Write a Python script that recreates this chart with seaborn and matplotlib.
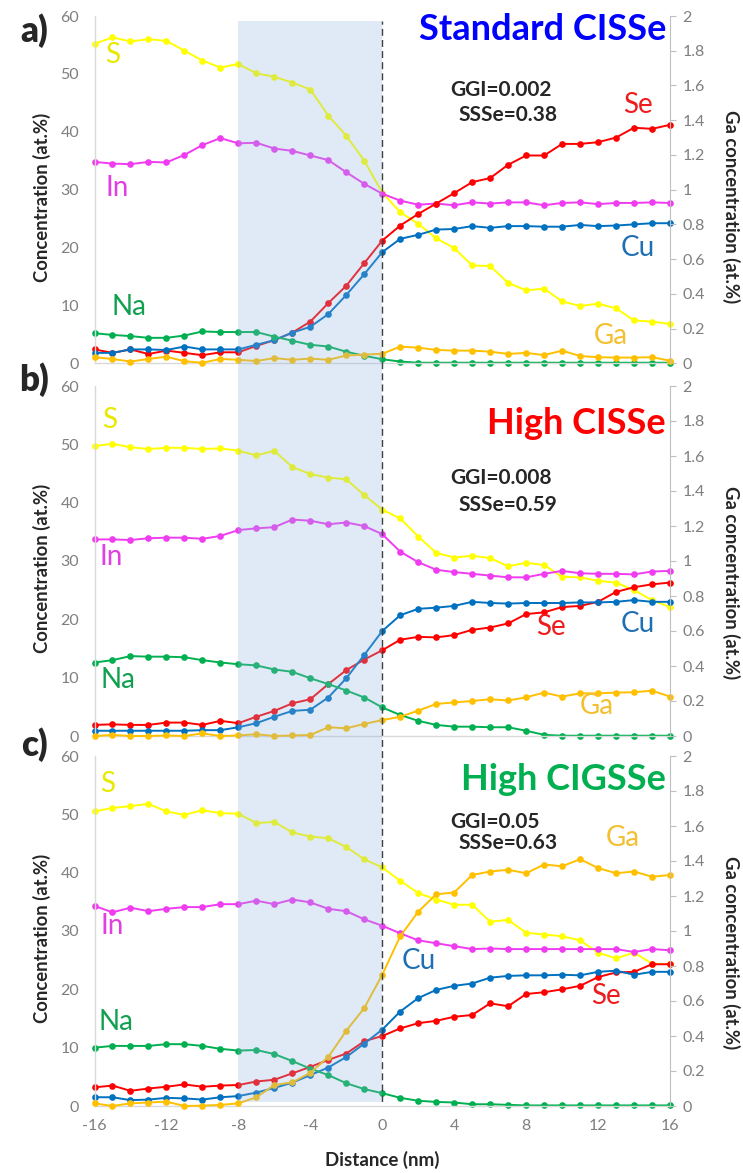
import matplotlib
matplotlib.use("Agg")
import matplotlib.pyplot as plt
from matplotlib.ticker import FuncFormatter
import seaborn as sns
import numpy as np

# distancia (nm) - mesmo eixo para os tres paineis
distance = list(range(-16, 17))

# a) Standard CISSe
S_a = [55.2, 56.3, 55.6, 56.0, 55.7, 54.0, 52.3, 51.1, 51.7, 50.1, 49.5, 48.5, 47.3, 42.8, 39.3, 35.0,
       29.5, 26.1, 24.1, 21.6, 19.9, 16.9, 16.8, 13.9, 12.6, 12.9, 10.7, 9.9, 10.3, 9.5, 7.4, 7.2, 6.8]
In_a = [34.8, 34.5, 34.4, 34.8, 34.7, 36.0, 37.7, 38.9, 38.0, 38.1, 37.1, 36.7, 35.9, 35.1, 33.0, 31.0,
        29.3, 28.1, 27.4, 27.6, 27.3, 27.8, 27.6, 27.8, 27.8, 27.3, 27.7, 27.8, 27.5, 27.7, 27.7, 27.8, 27.7]
Se_a = [2.4, 1.8, 2.4, 1.6, 2.2, 1.8, 1.4, 1.9, 1.9, 3.0, 4.0, 5.3, 7.2, 10.4, 13.4, 17.3,
        21.2, 23.8, 25.8, 27.6, 29.4, 31.3, 32.0, 34.3, 35.9, 35.9, 37.9, 37.9, 38.2, 39.0, 40.7, 40.5, 41.2]
Cu_a = [1.8, 1.8, 2.4, 2.4, 2.3, 2.9, 2.4, 2.4, 2.4, 3.2, 4.0, 5.3, 6.3, 8.5, 11.8, 15.4,
        19.2, 21.5, 22.2, 23.1, 23.2, 23.7, 23.4, 23.7, 23.7, 23.6, 23.6, 23.9, 23.7, 23.8, 24.0, 24.2, 24.2]
Na_a = [5.2, 4.9, 4.7, 4.4, 4.4, 4.8, 5.5, 5.4, 5.4, 5.4, 4.6, 3.9, 3.2, 2.9, 2.0, 1.3,
        0.7, 0.3, 0.1, 0.1, 0.1, 0.1, 0.1, 0.1, 0.1, 0.1, 0.1, 0.1, 0.1, 0.1, 0.1, 0.1, 0.1]
Ga_a = [0.035, 0.025, 0.01, 0.025, 0.038, 0.012, 0.003, 0.025, 0.02, 0.013, 0.03, 0.02, 0.027, 0.02, 0.045, 0.05,
        0.055, 0.096, 0.09, 0.077, 0.073, 0.073, 0.067, 0.054, 0.06, 0.047, 0.073, 0.042, 0.035, 0.033, 0.033, 0.035, 0.015]

# b) High CISSe
S_b = [49.7, 50.1, 49.5, 49.2, 49.4, 49.4, 49.2, 49.3, 48.9, 48.1, 48.9, 46.1, 44.9, 44.3, 44.0, 41.3,
       38.8, 37.3, 34.2, 31.4, 30.6, 30.9, 30.5, 29.1, 29.7, 29.3, 27.3, 27.2, 26.6, 26.3, 25.0, 23.3, 22.1]
In_b = [33.7, 33.7, 33.6, 33.9, 34.0, 34.0, 33.8, 34.3, 35.3, 35.6, 35.8, 37.1, 36.9, 36.3, 36.6, 36.0,
        34.6, 31.6, 29.8, 28.5, 28.1, 27.8, 27.5, 27.2, 27.2, 27.8, 28.3, 27.9, 27.8, 27.8, 27.7, 28.2, 28.3]
Se_b = [1.9, 2.0, 1.9, 1.9, 2.3, 2.3, 1.9, 2.6, 2.2, 3.3, 4.3, 5.6, 6.3, 8.9, 11.3, 13.1,
        14.7, 16.5, 17.0, 16.9, 17.3, 18.2, 18.6, 19.3, 20.9, 21.2, 22.1, 22.3, 23.0, 24.7, 25.5, 26.0, 26.3]
Cu_b = [0.9, 0.9, 0.9, 0.9, 0.9, 0.9, 1.0, 1.0, 1.5, 2.2, 3.3, 4.3, 4.5, 6.6, 9.9, 13.9,
        18.0, 20.7, 21.8, 22.0, 22.3, 23.0, 22.8, 22.7, 22.8, 22.8, 22.8, 22.9, 22.9, 23.0, 23.3, 23.0, 23.0]
Na_b = [12.6, 13.0, 13.7, 13.6, 13.6, 13.5, 13.0, 12.6, 12.3, 12.1, 11.4, 11.0, 9.9, 8.9, 7.8, 6.6,
        4.9, 3.6, 2.6, 1.9, 1.6, 1.6, 1.5, 1.5, 0.9, 0.2, 0.05, 0.05, 0.05, 0.05, 0.05, 0.05, 0.05]
Ga_b = [0.0, 0.006, 0.0, 0.0, 0.003, 0.0, 0.015, 0.0, 0.003, 0.01, 0.0, 0.003, 0.006, 0.05, 0.044, 0.069,
        0.091, 0.11, 0.145, 0.183, 0.192, 0.2, 0.21, 0.203, 0.221, 0.248, 0.225, 0.244, 0.244, 0.248, 0.25, 0.259, 0.225]

# c) High CIGSSe
S_c = [50.5, 51.1, 51.4, 51.8, 50.5, 49.9, 50.7, 50.2, 50.1, 48.5, 48.7, 46.9, 46.2, 45.9, 44.4, 42.3,
       40.9, 38.6, 36.5, 35.4, 34.5, 34.5, 31.6, 31.9, 29.7, 29.4, 29.1, 28.4, 26.3, 25.3, 26.3, 24.4, 24.3]
In_c = [34.3, 33.2, 34.0, 33.4, 33.8, 34.1, 34.1, 34.6, 34.6, 35.2, 34.6, 35.4, 34.9, 33.8, 33.4, 32.0,
        30.9, 29.6, 28.4, 27.9, 27.4, 26.9, 27.0, 26.9, 26.9, 26.9, 26.9, 26.9, 26.9, 26.9, 26.4, 26.9, 26.7]
Se_c = [3.2, 3.5, 2.6, 3.0, 3.3, 3.7, 3.3, 3.5, 3.6, 4.2, 4.5, 5.6, 6.7, 7.9, 9.0, 11.1,
        12.0, 13.3, 14.2, 14.6, 15.3, 15.6, 17.6, 17.1, 19.2, 19.5, 20.0, 20.6, 22.1, 22.9, 23.0, 24.3, 24.3]
Cu_c = [1.5, 1.5, 1.0, 1.1, 1.4, 1.3, 1.1, 1.5, 1.7, 2.3, 3.1, 4.0, 5.3, 6.6, 8.4, 10.7,
        13.1, 16.2, 18.5, 19.9, 20.6, 21.0, 22.0, 22.3, 22.4, 22.4, 22.5, 22.4, 23.0, 23.2, 22.5, 23.0, 23.0]
Na_c = [10.0, 10.3, 10.3, 10.3, 10.6, 10.6, 10.3, 9.8, 9.5, 9.6, 8.9, 7.7, 6.4, 5.3, 3.9, 2.9,
        2.2, 1.4, 0.9, 0.7, 0.6, 0.3, 0.3, 0.2, 0.1, 0.1, 0.1, 0.1, 0.1, 0.1, 0.1, 0.1, 0.1]
Ga_c = [0.015, 0.0, 0.015, 0.02, 0.025, 0.0, 0.002, 0.006, 0.015, 0.05, 0.12, 0.135, 0.19, 0.28, 0.43, 0.56,
        0.75, 0.97, 1.11, 1.21, 1.22, 1.32, 1.34, 1.35, 1.33, 1.38, 1.37, 1.41, 1.36, 1.33, 1.34, 1.31, 1.32]

titles = ["Standard CISSe", "High CISSe", "High CIGSSe"]
ggi_text = ["GGI=0.002", "GGI=0.008", "GGI=0.05"]
ssse_text = ["SSSe=0.38", "SSSe=0.59", "SSSe=0.63"]
letters = ["a)", "b)", "c)"]

cores = {"S": "#ffff00", "In": "#f03cf0", "Se": "#ff0000", "Cu": "#0070c0",
         "Na": "#00b050", "Ga": "#ffc000"}
cores_rotulo = {"S": "#e8e800", "In": "#e040e0", "Se": "#ee1c1c", "Cu": "#1f6fb4",
                "Na": "#10a050", "Ga": "#f2c030"}
cores_titulo = ["#0000ff", "#ff0000", "#00b050"]

sns.set_style("white")
plt.rcParams['font.family'] = ['Lato', 'DejaVu Sans']
plt.rcParams['axes.unicode_minus'] = False

W, H = 743, 1173
fig = plt.figure(figsize=(W / 100, H / 100), dpi=100)


def fx(px):
    return px / W


def fy(py):
    return 1 - py / H


X0, X1 = 94.5, 670
# (topo, base) em pixels de cada painel
caixas = [(16, 363.3), (386, 736), (756, 1106)]

dados = [
    {"S": S_a, "In": In_a, "Se": Se_a, "Cu": Cu_a, "Na": Na_a, "Ga": Ga_a},
    {"S": S_b, "In": In_b, "Se": Se_b, "Cu": Cu_b, "Na": Na_b, "Ga": Ga_b},
    {"S": S_c, "In": In_c, "Se": Se_c, "Cu": Cu_c, "Na": Na_c, "Ga": Ga_c},
]

# posicoes dos rotulos dos elementos (px)
rotulos = [
    {"S": (113, 55), "In": (117, 188), "Na": (129, 307), "Se": (638, 105), "Cu": (638, 248), "Ga": (611, 336)},
    {"S": (110, 420), "In": (111, 557), "Na": (118, 680), "Se": (551, 627), "Cu": (638, 624), "Ga": (597, 706)},
    {"S": (108, 784), "In": (112, 926), "Na": (116, 1022), "Se": (606, 996), "Cu": (419, 961), "Ga": (623, 838)},
]
titulo_y = [29, 423, 780]
ggi_y = [(90, 115), (478, 505), (822, 843)]
letra_y = [31, 380, 745]
ylab_y = [197, 568, 938]
y2lab_y = [207, 583, 953]

fmt2 = FuncFormatter(lambda v, p: f"{v:g}")
cinza = "#7f7f7f"

for i, (top, bot) in enumerate(caixas):
    ax = fig.add_axes([fx(X0), fy(bot), fx(X1) - fx(X0), (bot - top) / H])
    ax.patch.set_alpha(0)
    for el in ["S", "In", "Se", "Cu", "Na"]:
        sns.lineplot(x=distance, y=dados[i][el], ax=ax, color=cores[el], marker="o",
                     markersize=4.8, markeredgewidth=0, linewidth=1.4, clip_on=False)
    ax.set_xlim(-16, 16)
    ax.set_ylim(0, 60)
    ax.set_yticks(range(0, 61, 10))
    ax.set_xticks(range(-16, 17, 4))
    ax.tick_params(axis="y", length=0, pad=11, labelcolor=cinza, labelsize=11.5)
    ax.tick_params(axis="x", length=0, pad=9, labelcolor=cinza, labelsize=11.5,
                   labelbottom=(i == 2))
    for s in ["top", "right"]:
        ax.spines[s].set_visible(False)
    for s in ["left", "bottom"]:
        ax.spines[s].set_color("#d9d9d9")
        ax.spines[s].set_linewidth(1)
    ax.set_xlabel("")
    ax.set_ylabel("")

    ax2 = ax.twinx()
    sns.lineplot(x=distance, y=dados[i]["Ga"], ax=ax2, color=cores["Ga"], marker="o",
                 markersize=4.8, markeredgewidth=0, linewidth=1.4, clip_on=False)
    ax2.set_ylim(0, 2)
    ax2.set_yticks(np.arange(0, 2.01, 0.2))
    ax2.yaxis.set_major_formatter(fmt2)
    ax2.tick_params(axis="y", length=4, width=0.8, color="#bfbfbf", pad=5,
                    labelcolor=cinza, labelsize=11.5)
    for s in ["top", "left", "bottom"]:
        ax2.spines[s].set_visible(False)
    ax2.spines["right"].set_color("#bfbfbf")
    ax2.set_ylabel("")

    # textos
    fig.text(fx(666), fy(titulo_y[i]), titles[i], color=cores_titulo[i], fontsize=26,
             fontweight="bold", ha="right", va="center")
    fig.text(fx(450), fy(ggi_y[i][0]), ggi_text[i], fontsize=15, fontweight="bold",
             ha="left", va="center")
    fig.text(fx(458), fy(ggi_y[i][1]), ssse_text[i], fontsize=15, fontweight="bold",
             ha="left", va="center")
    fig.text(fx(34), fy(letra_y[i]), letters[i], fontsize=25, fontweight="heavy",
             ha="center", va="center")
    for el, (px, py) in rotulos[i].items():
        fig.text(fx(px), fy(py), el, color=cores_rotulo[el], fontsize=20, ha="center", va="center")
    fig.text(fx(42), fy(ylab_y[i]), "Concentration (at.%)", rotation=90, fontsize=13.3,
             fontweight="bold", ha="center", va="center")
    fig.text(fx(731), fy(y2lab_y[i]), "Ga concentration (at.%)", rotation=270, fontsize=13.3,
             fontweight="bold", ha="center", va="center")

fig.text(fx(382), fy(1160), "Distance (nm)", fontsize=13.5, fontweight="bold",
         ha="center", va="center")

# regiao sombreada e linha da interface por cima dos tres paineis
ov = fig.add_axes([fx(X0), fy(1102), fx(X1) - fx(X0), (1102 - 21) / H])
ov.set_xlim(-16, 16)
ov.set_ylim(0, 1)
ov.axis("off")
ov.axvspan(-8, 0, color="#8fb4e0", alpha=0.28, lw=0)
ov.axvline(0, color="#404040", lw=1, ls=(0, (5, 3)))

fig.savefig("out.png", dpi=100)
